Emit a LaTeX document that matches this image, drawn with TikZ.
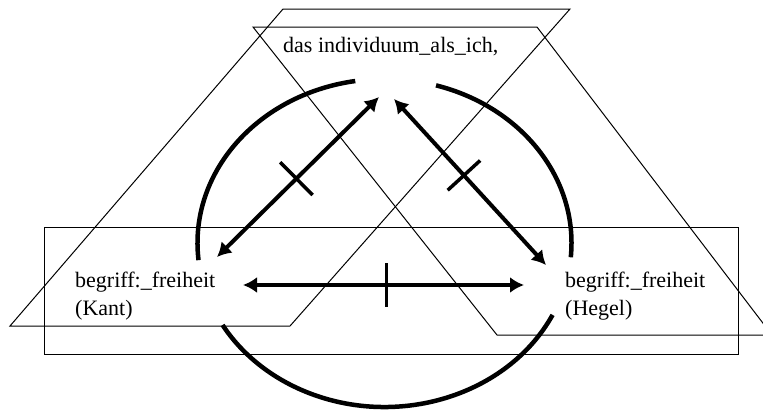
\documentclass[tikz,border=0pt]{standalone}
\usepackage{fontspec}
\setmainfont{Liberation Serif}
\usetikzlibrary{positioning,arrows.meta,calc}
\tikzset{
  thinline/.style={draw=black,line width=1pt},
  biarr/.style={{Latex[length=14pt,width=16pt]}-{Latex[length=14pt,width=16pt]},line width=4pt},
  ringarc/.style={line width=4.5pt},
  tickmark/.style={line width=3.5pt},
  lbl/.style={font=\fontsize{22}{28}\selectfont,align=left,inner sep=0pt}
}

\begin{document}
\begin{tikzpicture}[x=1pt,y=-1pt]
\clip (0,0) rectangle (763,410);

% frames behind the diagram
\draw[thinline] (44,227) rectangle (738,354);
\draw[thinline] (10,326) -- (290,326) -- (570,9) -- (283,9) -- cycle;
\draw[thinline] (253,27) -- (537,27) -- (772,335) -- (497,335) -- cycle;

% labels
\node[lbl, anchor=base west] (ich) at (283,52) {das individuum\_als\_ich,};
\node[lbl, anchor=north west] (kant) at (75,272) {begriff:\_freiheit\\(Kant)};
\node[lbl, anchor=north west] (hegel) at (565,272) {begriff:\_freiheit\\(Hegel)};

% arrow ends
\coordinate (kant-up) at (217,257);
\coordinate (kant-r) at (243,285);
\coordinate (ich-l) at (379,97);
\coordinate (ich-r) at (394,99);
\coordinate (hegel-up) at (546,265);
\coordinate (hegel-l) at (524,285);
\coordinate (ring) at (384.5,243);

% circle round the three
\draw[ringarc] (ring) ++(174:187 and 164) arc[start angle=174,end angle=261,x radius=187,y radius=164];
\draw[ringarc] (ring) ++(286:187 and 164) arc[start angle=286,end angle=365,x radius=187,y radius=164];
\draw[ringarc] (ring) ++(26:187 and 164) arc[start angle=26,end angle=150,x radius=187,y radius=164];

% relations
\draw[biarr] (kant-up) -- coordinate[pos=.49] (m1) (ich-l);
\draw[biarr] (ich-r) -- coordinate[pos=.46] (m2) (hegel-up);
\draw[biarr] (kant-r) -- coordinate[pos=.51] (m3) (hegel-l);

\draw[tickmark] ($(m1)!23pt!90:(ich-l)$) -- ($(m1)!23pt!-90:(ich-l)$);
\draw[tickmark] ($(m2)!22pt!90:(hegel-up)$) -- ($(m2)!22pt!-90:(hegel-up)$);
\draw[tickmark] ($(m3)!22pt!90:(hegel-l)$) -- ($(m3)!22pt!-90:(hegel-l)$);
\end{tikzpicture}
\end{document}
